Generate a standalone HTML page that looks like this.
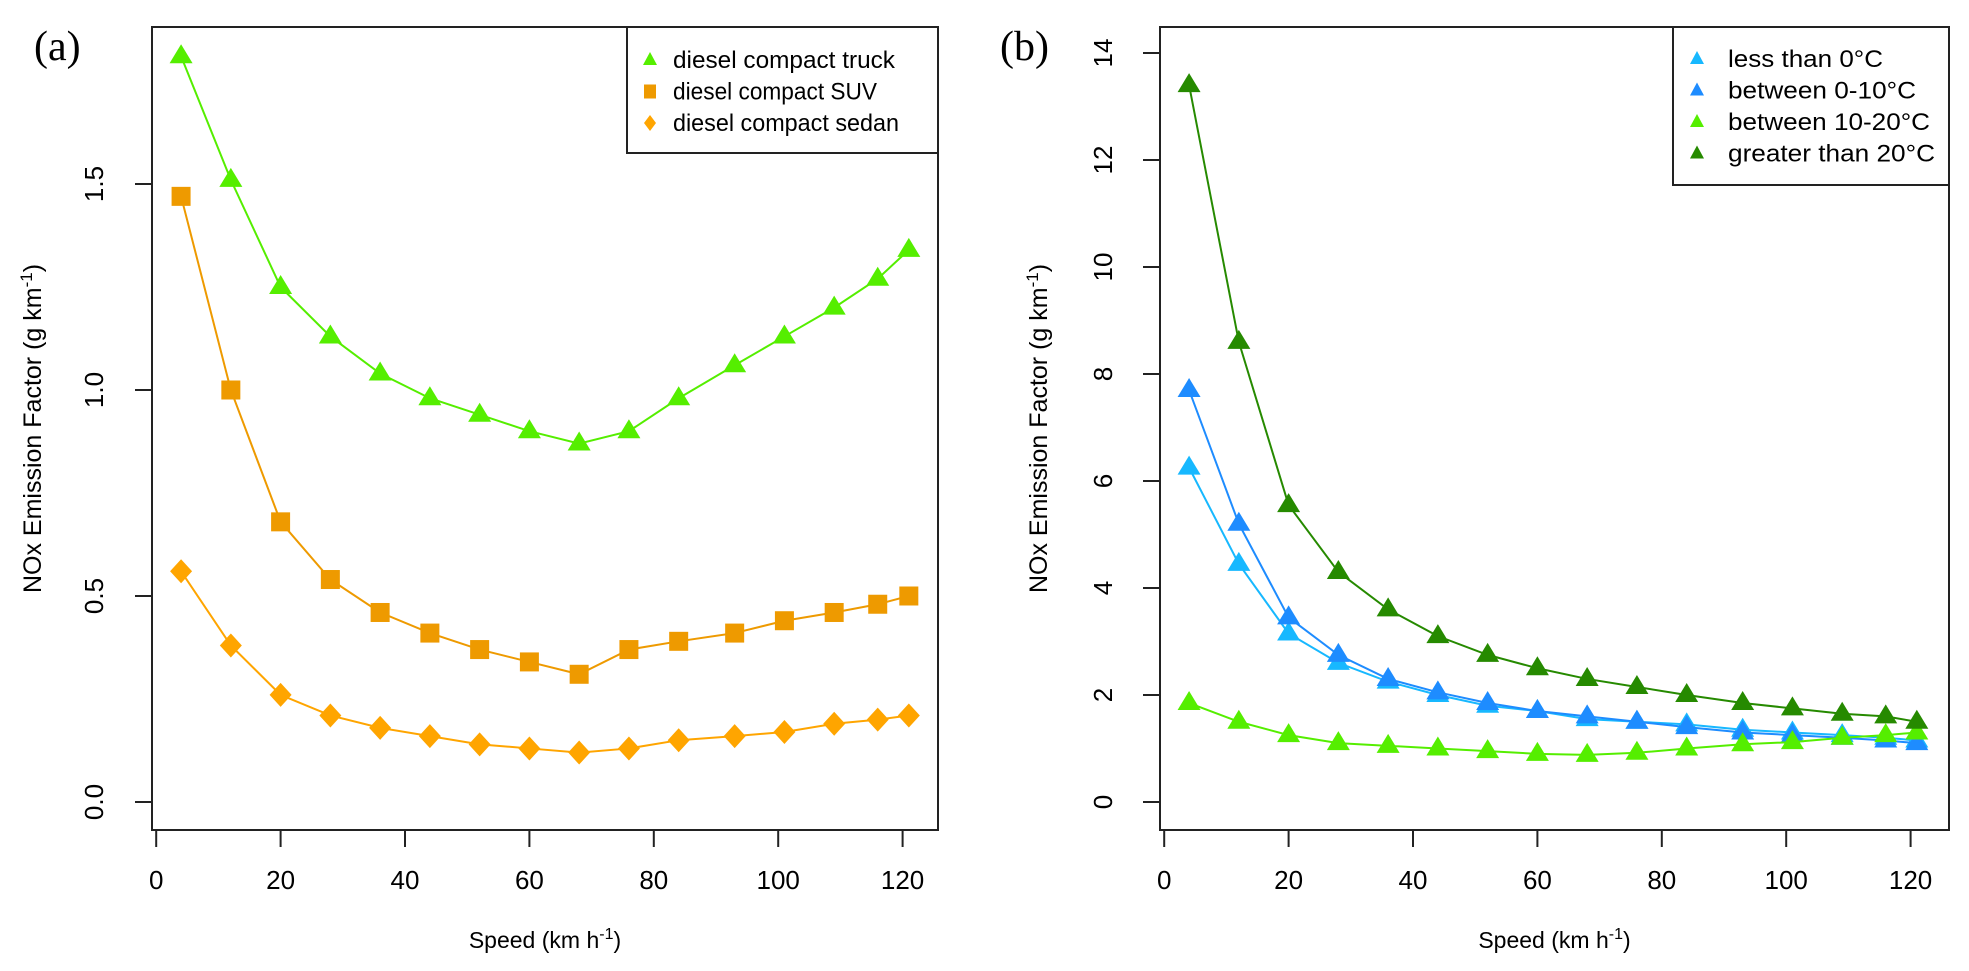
<!DOCTYPE html>
<html><head><meta charset="utf-8"><style>
html,body{margin:0;padding:0;background:#fff;}
svg{display:block;font-family:"Liberation Sans",Arial,sans-serif;}
</style></head><body>
<svg id="fig" width="1969" height="971" viewBox="0 0 1969 971" xmlns="http://www.w3.org/2000/svg">
<rect width="1969" height="971" fill="#fff"/>
<text x="34" y="60" font-family="Liberation Serif,serif" font-size="42">(a)</text>
<text x="1000" y="60" font-family="Liberation Serif,serif" font-size="42">(b)</text>
<g id="pa"></g>
<g id="pb"></g>
</svg>
<script>
const speeds = [4,12,20,28,36,44,52,60,68,76,84,93,101,109,116,121];
const truckVals = [1.81,1.51,1.25,1.13,1.04,0.98,0.94,0.90,0.87,0.90,0.98,1.06,1.13,1.20,1.27,1.34];
const suvVals = [1.47,1.00,0.68,0.54,0.46,0.41,0.37,0.34,0.31,0.37,0.39,0.41,0.44,0.46,0.48,0.50];
const sedanVals = [0.56,0.38,0.26,0.21,0.18,0.16,0.14,0.13,0.12,0.13,0.15,0.16,0.17,0.19,0.20,0.21];
const below0Vals = [6.25,4.45,3.15,2.6,2.25,2.0,1.8,1.7,1.55,1.5,1.45,1.35,1.3,1.25,1.2,1.15];
const b0to10Vals = [7.7,5.2,3.45,2.75,2.3,2.05,1.85,1.7,1.6,1.5,1.4,1.3,1.25,1.2,1.15,1.1];
const b10to20Vals = [1.85,1.5,1.25,1.1,1.05,1.0,0.95,0.9,0.88,0.92,1.0,1.08,1.12,1.2,1.25,1.3];
const above20Vals = [13.4,8.6,5.55,4.3,3.6,3.1,2.75,2.5,2.3,2.15,2.0,1.85,1.75,1.65,1.6,1.5];
const xTicks = [0,20,40,60,80,100,120];
const yTicksA = [0.0,0.5,1.0,1.5];
const yTickLabelsA = ["0.0","0.5","1.0","1.5"];
const yTicksB = [0,2,4,6,8,10,12,14];

const NS="http://www.w3.org/2000/svg";
function mk(parent,tag,attrs,txt){const e=document.createElementNS(NS,tag);for(const k in attrs)e.setAttribute(k,attrs[k]);if(txt!==undefined)e.textContent=txt;parent.appendChild(e);return e;}

function marker(g,shape,x,y,col){
  let e;
  if(shape==='tri'){e=mk(g,'polygon',{points:`${x-11.5},${y+7} ${x+11.5},${y+7} ${x},${y-12}`,fill:col});}
  else if(shape==='sq'){e=mk(g,'rect',{x:x-9.5,y:y-9.5,width:19,height:19,fill:col});}
  else {e=mk(g,'polygon',{points:`${x},${y-12} ${x+11},${y} ${x},${y+12} ${x-11},${y}`,fill:col});}
  return e;
}

function panel(gid,L,R,T,B,yZero,yPerUnit,yTicks,yLabels,series,legend,tickLabelX,titleX){
  const g=document.getElementById(gid);
  const xs=v=>L+4.2+v*6.22;
  const ys=v=>yZero-v*yPerUnit;
  const box=mk(g,'rect',{x:L,y:T,width:R-L,height:B-T,fill:'none',stroke:'#222','stroke-width':2});
  
  
  xTicks.forEach(t=>{
    const tl=mk(g,'line',{x1:xs(t),x2:xs(t),y1:B,y2:B+17,stroke:'#222','stroke-width':2});
    
    
    const tx=mk(g,'text',{x:xs(t),y:B+59,'font-size':26,'text-anchor':'middle'},String(t));
    
    
  });
  yTicks.forEach((t,i)=>{
    const tl=mk(g,'line',{x1:L-17,x2:L,y1:ys(t),y2:ys(t),stroke:'#222','stroke-width':2});
    
    
    const tx=mk(g,'text',{x:tickLabelX,y:ys(t),'font-size':26,'text-anchor':'middle',transform:`rotate(-90 ${tickLabelX} ${ys(t)})`},yLabels[i]);
    
    
  });
  const xt=mk(g,'text',{x:(L+R)/2,y:948,'font-size':23,'text-anchor':'middle'});
  
  
  xt.innerHTML='Speed (km h<tspan dy="-9" font-size="16">-1</tspan><tspan dy="9">)</tspan>';
  const cy=(T+B)/2;
  const yt=mk(g,'text',{x:titleX,y:cy,'font-size':25,'text-anchor':'middle',transform:`rotate(-90 ${titleX} ${cy})`});
  
  
  yt.innerHTML='NOx Emission Factor (g km<tspan dy="-9" font-size="17">-1</tspan><tspan dy="9">)</tspan>';
  series.forEach(s=>{
    const sg=mk(g,'g',{});
    
    
    const pts=speeds.map((x,i)=>`${xs(x)},${ys(s.vals[i])}`).join(' ');
    const pl=mk(sg,'polyline',{points:pts,fill:'none',stroke:s.col,'stroke-width':2});
    
    
    speeds.forEach((x,i)=>{
      const m=marker(sg,s.shape,xs(x),ys(s.vals[i]),s.col);
      
      
    });
  });
  const lg=mk(g,'g',{});
  
  
  mk(lg,'rect',{x:legend.x,y:T,width:R-legend.x,height:legend.b-T,fill:'#fff',stroke:'#222','stroke-width':2});
  series.forEach((s,i)=>{
    const yy=legend.y0+i*31.5;
    const eg=mk(lg,'g',{});
    
    
    if(s.shape==='tri') mk(eg,'polygon',{points:`${legend.sx-7},${yy+5} ${legend.sx+7},${yy+5} ${legend.sx},${yy-8}`,fill:s.col});
    else if(s.shape==='sq') mk(eg,'rect',{x:legend.sx-6,y:yy-7,width:12,height:14,fill:s.col});
    else mk(eg,'polygon',{points:`${legend.sx},${yy-8} ${legend.sx+6},${yy} ${legend.sx},${yy+8} ${legend.sx-6},${yy}`,fill:s.col});
    mk(eg,'text',{x:legend.tx,y:yy+8,'font-size':24,textLength:s.tl,lengthAdjust:'spacingAndGlyphs'},s.label);
  });
}

panel('pa',152,938,27,830,802,412,yTicksA,yTickLabelsA,[
  {name:'truck-series',label:'diesel compact truck',vals:truckVals,col:'#55ee00',shape:'tri',tl:222},
  {name:'suv-series',label:'diesel compact SUV',vals:suvVals,col:'#ee9a00',shape:'sq',tl:204},
  {name:'sedan-series',label:'diesel compact sedan',vals:sedanVals,col:'#ffa500',shape:'dia',tl:226}
],{x:627,b:153,y0:60,sx:650,tx:673},103,41);

panel('pb',1160,1949,27,830,802,53.5,yTicksB,yTicksB.map(String),[
  {name:'below-0c-series',label:'less than 0°C',vals:below0Vals,col:'#17b8ff',shape:'tri',tl:155},
  {name:'0-10c-series',label:'between 0-10°C',vals:b0to10Vals,col:'#1e8cff',shape:'tri',tl:188},
  {name:'10-20c-series',label:'between 10-20°C',vals:b10to20Vals,col:'#55ee00',shape:'tri',tl:202},
  {name:'above-20c-series',label:'greater than 20°C',vals:above20Vals,col:'#268a00',shape:'tri',tl:207}
],{x:1673,b:185,y0:59,sx:1697,tx:1728},1112,1047);
</script>
</body></html>
